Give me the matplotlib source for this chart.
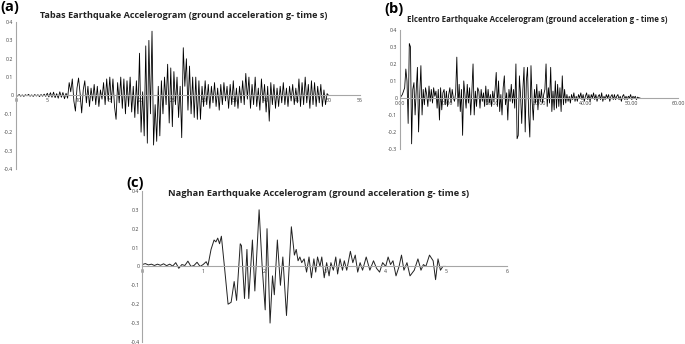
import numpy as np
import matplotlib.pyplot as plt

tabas_dt = 0.25
tabas_acc = [
    0.004, -0.003, 0.005, -0.004, 0.003, -0.005, 0.004, -0.002, 0.006, -0.004,
    0.003, -0.005, 0.005, -0.003, 0.004, -0.006, 0.005, -0.004, 0.007, -0.005,
    0.012, -0.008, 0.015, -0.01, 0.018, -0.012, 0.01, -0.015, 0.02, -0.01, 0.016, -0.018,
    0.012, -0.015, 0.07, 0.02, 0.09, -0.03, -0.085, 0.04,
    0.095, 0.01, -0.095, 0.03, 0.08, -0.04, 0.05, -0.06,
    0.04, -0.03, 0.06, -0.05, 0.05, -0.06, 0.03, -0.02,
    0.07, -0.05, 0.09, -0.03, 0.1, -0.04, 0.09, -0.06,
    -0.13, 0.07, -0.04, 0.1, -0.07, 0.09, -0.1, 0.08,
    -0.06, 0.1, -0.09, 0.05, -0.12, 0.08, -0.1, 0.23,
    -0.2, 0.02, -0.22, 0.27, -0.26, 0.3, -0.1, 0.35,
    -0.27, -0.05, -0.25, 0.05, -0.22, 0.08, -0.1, 0.1,
    -0.05, 0.17, -0.15, 0.15, -0.17, 0.13, -0.05, 0.1,
    -0.12, 0.05, -0.23, 0.26, 0.05, 0.2, -0.08, 0.16,
    -0.1, 0.1, -0.12, 0.1, -0.13, 0.08, -0.13, 0.05,
    -0.06, 0.08, -0.05, 0.06, -0.07, 0.05, -0.04, 0.07,
    -0.06, 0.04, -0.08, 0.06, -0.05, 0.07, -0.03, 0.05,
    -0.07, 0.06, -0.05, 0.08, -0.06, 0.04, -0.07, 0.05,
    -0.04, 0.08, -0.05, 0.12, -0.02, 0.1, -0.07, 0.06,
    -0.05, 0.1, -0.06, 0.04, -0.08, 0.09, -0.04, 0.06,
    -0.09, 0.05, -0.14, 0.07, -0.05, 0.06, -0.07, 0.04,
    -0.06, 0.05, -0.04, 0.07, -0.05, 0.04, -0.06, 0.05,
    -0.03, 0.06, -0.05, 0.04, -0.04, 0.09, -0.06, 0.07,
    -0.05, 0.1, -0.04, 0.06, -0.07, 0.08, -0.05, 0.07,
    -0.06, 0.05, -0.04, 0.06, -0.06, 0.03, -0.05, 0.01,
    0.0,
]
tabas_xticks = [0, 5, 10, 15, 20, 25, 30, 35, 40, 45, 50, 55]
tabas_yticks = [-0.4, -0.3, -0.2, -0.1, 0, 0.1, 0.2, 0.3, 0.4]

# Elcentro record, sampled every 0.25 s
elcentro_dt = 0.25
elcentro_acc = [
    0.0, 0.01, 0.02, 0.04, 0.06, 0.17, 0.1, -0.15,
    0.32, 0.3, -0.27, 0.05, 0.09, -0.1, 0.05, 0.18,
    -0.2, 0.02, 0.19, -0.1, 0.05, -0.04, 0.06, 0.02,
    -0.05, 0.07, -0.02, 0.05, -0.03, 0.06, 0.01, 0.04,
    -0.06, 0.05, -0.13, 0.06, -0.07, 0.03, 0.05, -0.04,
    0.04, -0.05, 0.02, 0.06, -0.03, 0.05, 0.0, -0.02,
    0.03, 0.24, -0.05, 0.08, -0.08, 0.05, -0.22, 0.1,
    0.02, -0.06, 0.08, -0.03, 0.06, -0.1, 0.04, 0.2,
    -0.1, 0.04, -0.05, 0.06, 0.04, -0.06, 0.05, -0.02,
    0.03, -0.05, 0.07, -0.04, 0.05, -0.03, 0.02, -0.05,
    0.04, -0.02, 0.05, 0.15, -0.05, 0.1, -0.08, 0.02,
    -0.1, 0.06, 0.13, -0.04, 0.03, -0.13, 0.05, -0.02,
    0.08, -0.03, 0.05, -0.06, 0.2, -0.24, -0.22, 0.13,
    0.02, -0.15, 0.05, 0.18, -0.2, 0.1, 0.18, -0.1,
    -0.23, 0.19, -0.02, -0.13, 0.05, -0.03, 0.08, -0.07,
    0.04, -0.02, 0.05, -0.03, 0.02, 0.05, 0.2, -0.05,
    0.06, -0.03, 0.18, -0.08, 0.04, -0.07, 0.1, -0.06,
    0.08, -0.05, 0.06, -0.08, 0.13, -0.04, 0.05, -0.03,
    0.02, -0.02, 0.01, -0.03, 0.02, -0.01, 0.03, -0.02,
    0.01, -0.02, 0.02, 0.0, 0.03, -0.01, 0.02, -0.02,
    0.01, 0.03, -0.01, 0.02, -0.02, 0.02, 0.0, 0.03,
    -0.01, 0.02, -0.02, 0.01, 0.02, -0.01, 0.03, -0.02,
    0.01, -0.01, 0.02, 0.0, 0.02, -0.02, 0.01, 0.02,
    -0.01, 0.02, -0.01, 0.01, 0.02, -0.01, 0.01, -0.02,
    0.01, 0.02, -0.01, 0.01, -0.01, 0.01, 0.0, 0.02,
    -0.01, 0.01, 0.0, 0.01, -0.01, 0.005, 0.0, 0.0,
]
elcentro_xticks = [0, 10, 20, 30, 40, 50, 60]
elcentro_yticks = [-0.3, -0.2, -0.1, 0, 0.1, 0.2, 0.3, 0.4]

# Naghan record, turning points (time, g)
naghan_t = [
    0.00, 0.05, 0.10, 0.15, 0.20, 0.25, 0.30, 0.35, 0.40, 0.45, 0.50, 0.55,
    0.60, 0.65, 0.70, 0.75, 0.80, 0.85, 0.90, 0.95, 1.00, 1.05, 1.08, 1.13,
    1.18, 1.21, 1.24, 1.27, 1.30, 1.35, 1.41, 1.46, 1.51, 1.55, 1.61, 1.63,
    1.68, 1.72, 1.75, 1.81, 1.85, 1.92, 1.97, 2.02, 2.05, 2.10, 2.14, 2.17,
    2.22, 2.27, 2.31, 2.37, 2.45, 2.50, 2.53, 2.56, 2.59, 2.62, 2.66, 2.70,
    2.74, 2.78, 2.82, 2.85, 2.88, 2.92, 2.95, 2.99, 3.03, 3.07, 3.10, 3.14,
    3.18, 3.21, 3.25, 3.29, 3.32, 3.36, 3.42, 3.46, 3.50, 3.54, 3.58, 3.62,
    3.68, 3.74, 3.80, 3.85, 3.90, 3.95, 4.00, 4.04, 4.08, 4.12, 4.17, 4.22,
    4.26, 4.30, 4.35, 4.40, 4.47, 4.53, 4.58, 4.62, 4.66, 4.72, 4.78, 4.82,
    4.86, 4.90, 4.94, 4.98,
]
naghan_acc = [
    0.01, 0.015, 0.008, 0.012, 0.005, 0.012, 0.006, 0.014, 0.004, 0.012, 0.002, 0.02,
    -0.01, 0.01, 0.005, 0.028, 0.0, 0.005, 0.022, 0.0, 0.01, 0.025, 0.005, 0.09,
    0.14, 0.13, 0.15, 0.12, 0.16, 0.0, -0.2, -0.19, -0.08, -0.18, 0.12, 0.11,
    -0.17, 0.09, -0.17, 0.14, -0.13, 0.3, 0.0, -0.23, 0.2, -0.3, -0.05, -0.15,
    0.14, -0.1, 0.05, -0.26, 0.21, 0.06, 0.09, 0.03, 0.05, 0.02, 0.04, -0.03,
    0.05, -0.06, 0.04, -0.03, 0.05, 0.0, 0.05, -0.06, 0.02, -0.05, 0.02, -0.02,
    0.05, -0.04, 0.04, -0.02, 0.03, -0.02, 0.08, 0.02, 0.06, -0.03, 0.02, -0.02,
    0.05, -0.02, 0.03, -0.01, -0.03, 0.02, 0.0, 0.05, 0.01, 0.03, -0.05, 0.0,
    0.06, -0.02, 0.02, -0.05, -0.02, 0.04, -0.02, 0.01, 0.0, 0.06, 0.03, -0.07,
    0.04, -0.02, 0.0, 0.0,
]
naghan_xticks = [0, 1, 2, 3, 4, 5, 6]
naghan_yticks = [-0.4, -0.3, -0.2, -0.1, 0, 0.1, 0.2, 0.3, 0.4]

plt.rcParams['font.family'] = ['Open Sans', 'DejaVu Sans']

fig = plt.figure(figsize=(6.85, 3.44), dpi=100)

def style_axis(ax, xticks, yticks, xfmt):
    for s in ['top', 'right']:
        ax.spines[s].set_visible(False)
    ax.spines['bottom'].set_position(('data', 0))
    for s in ['left', 'bottom']:
        ax.spines[s].set_color('#a6a6a6')
        ax.spines[s].set_linewidth(0.8)
    ax.set_xticks(xticks)
    ax.set_yticks(yticks)
    ax.set_xticklabels([xfmt(v) for v in xticks])
    ax.set_yticklabels(['{:g}'.format(v) for v in yticks])
    ax.tick_params(axis='both', length=0, labelsize=3.8, colors='#404040', pad=2)
    ax.patch.set_alpha(0)

# (a) Tabas
ax1 = fig.add_axes([0.0234, 0.509, 0.502, 0.427])
t1 = np.arange(len(tabas_acc)) * tabas_dt
ax1.plot(t1, tabas_acc, color='black', lw=0.6)
ax1.set_xlim(0, 55)
ax1.set_ylim(-0.4, 0.4)
style_axis(ax1, tabas_xticks, tabas_yticks, lambda v: '{:g}'.format(v))
fig.text(0.268, 1 - 16 / 344, 'Tabas Earthquake Accelerogram (ground acceleration g- time s)',
         ha='center', va='center', fontsize=6.6, fontweight='bold', color='#222222')
fig.text(0.0, 1 - 7 / 344, '(a)', ha='left', va='center', fontsize=10.5, fontweight='bold')

# (b) Elcentro
ax2 = fig.add_axes([0.584, 0.567, 0.406, 0.346])
t2 = np.arange(len(elcentro_acc)) * elcentro_dt
ax2.plot(t2, elcentro_acc, color='black', lw=0.6)
ax2.set_xlim(0, 60)
ax2.set_ylim(-0.3, 0.4)
style_axis(ax2, elcentro_xticks, elcentro_yticks, lambda v: '{:.2f}'.format(v))
fig.text(0.785, 1 - 20 / 344, 'Elcentro Earthquake Accelerogram (ground acceleration g - time s)',
         ha='center', va='center', fontsize=5.7, fontweight='bold', color='#222222')
fig.text(0.561, 1 - 9 / 344, '(b)', ha='left', va='center', fontsize=10.5, fontweight='bold')

# (c) Naghan
ax3 = fig.add_axes([0.2077, 0.006, 0.533, 0.439])
ax3.plot(naghan_t, naghan_acc, color='#222222', lw=0.7)
ax3.set_xlim(0, 6)
ax3.set_ylim(-0.4, 0.4)
style_axis(ax3, naghan_xticks, naghan_yticks, lambda v: '{:g}'.format(v))
fig.text(0.465, 1 - 194 / 344, 'Naghan Earthquake Accelerogram (ground acceleration g- time s)',
         ha='center', va='center', fontsize=6.7, fontweight='bold', color='#222222')
fig.text(0.185, 1 - 183 / 344, '(c)', ha='left', va='center', fontsize=10.5, fontweight='bold')

fig.savefig('out.png', dpi=100)
